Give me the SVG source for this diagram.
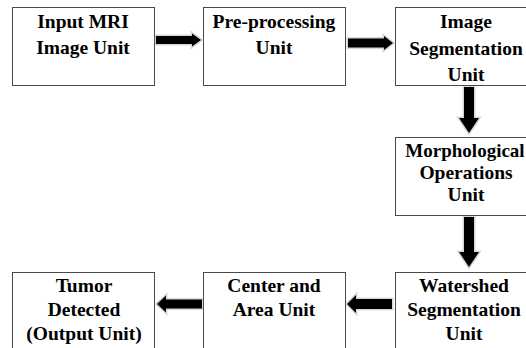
<svg xmlns="http://www.w3.org/2000/svg" width="526" height="348" viewBox="0 0 526 348">
<rect width="526" height="348" fill="#fff"/>
<g id="connectors" fill="#000" stroke-linejoin="miter">
<g id="a1"><polygon fill="none" stroke="#d8d8d8" stroke-width="3" points="156,36 192,36 192,33.5 201,40 192,46.5 192,44 156,44"/><polygon points="156,36 192,36 192,33.5 201,40 192,46.5 192,44 156,44"/></g>
<g id="a2"><polygon fill="none" stroke="#d8d8d8" stroke-width="3" points="348,38.5 384,38.5 384,36 393,43 384,50 384,47.5 348,47.5"/><polygon points="348,38.5 384,38.5 384,36 393,43 384,50 384,47.5 348,47.5"/></g>
<g id="a3"><polygon fill="none" stroke="#d8d8d8" stroke-width="3" points="464,87 474,87 474,118 479,118 469,133 459,118 464,118"/><polygon points="464,87 474,87 474,118 479,118 469,133 459,118 464,118"/></g>
<g id="a4"><polygon fill="none" stroke="#d8d8d8" stroke-width="3" points="464,217 474,217 474,252 479,252 469,267 459,252 464,252"/><polygon points="464,217 474,217 474,252 479,252 469,267 459,252 464,252"/></g>
<g id="a5"><polygon fill="none" stroke="#d8d8d8" stroke-width="3" points="392,299 356,299 356,295 347,304 356,313 356,309 392,309"/><polygon points="392,299 356,299 356,295 347,304 356,313 356,309 392,309"/></g>
<g id="a6"><polygon fill="none" stroke="#d8d8d8" stroke-width="3" points="202,299.5 166,299.5 166,295.5 157,304 166,312.5 166,308.5 202,308.5"/><polygon points="202,299.5 166,299.5 166,295.5 157,304 166,312.5 166,308.5 202,308.5"/></g>
</g>
<g id="n1"><rect fill="#fff" stroke="#4a4a4a" x="12.5" y="7.5" width="142" height="78"/><text font-family="Liberation Serif" font-size="19.5" font-weight="bold" text-anchor="middle" x="83" y="28">Input MRI</text><text font-family="Liberation Serif" font-size="19.5" font-weight="bold" text-anchor="middle" x="83" y="54">Image Unit</text></g>
<g id="n2"><rect fill="#fff" stroke="#4a4a4a" x="203.5" y="7.5" width="142" height="78"/><text font-family="Liberation Serif" font-size="19.5" font-weight="bold" text-anchor="middle" x="274" y="28">Pre-processing</text><text font-family="Liberation Serif" font-size="19.5" font-weight="bold" text-anchor="middle" x="274" y="54">Unit</text></g>
<g id="n3"><rect fill="#fff" stroke="#4a4a4a" x="395.5" y="7.5" width="142" height="78"/><text font-family="Liberation Serif" font-size="19.5" font-weight="bold" text-anchor="middle" x="466" y="28">Image</text><text font-family="Liberation Serif" font-size="19.5" font-weight="bold" text-anchor="middle" x="466" y="55">Segmentation</text><text font-family="Liberation Serif" font-size="19.5" font-weight="bold" text-anchor="middle" x="466" y="81">Unit</text></g>
<g id="n4"><rect fill="#fff" stroke="#4a4a4a" x="395.5" y="137.5" width="142" height="78"/><text font-family="Liberation Serif" font-size="19" font-weight="bold" text-anchor="middle" x="465" y="157">Morphological</text><text font-family="Liberation Serif" font-size="19.5" font-weight="bold" text-anchor="middle" x="466" y="179">Operations</text><text font-family="Liberation Serif" font-size="19.5" font-weight="bold" text-anchor="middle" x="466" y="201">Unit</text></g>
<g id="n5"><rect fill="#fff" stroke="#4a4a4a" x="395.5" y="272.5" width="142" height="90"/><text font-family="Liberation Serif" font-size="19.5" font-weight="bold" text-anchor="middle" x="464" y="292">Watershed</text><text font-family="Liberation Serif" font-size="19.5" font-weight="bold" text-anchor="middle" x="464" y="316">Segmentation</text><text font-family="Liberation Serif" font-size="19.5" font-weight="bold" text-anchor="middle" x="464" y="340">Unit</text></g>
<g id="n6"><rect fill="#fff" stroke="#4a4a4a" x="203.5" y="272.5" width="142" height="90"/><text font-family="Liberation Serif" font-size="19.5" font-weight="bold" text-anchor="middle" x="274" y="292">Center and</text><text font-family="Liberation Serif" font-size="19.5" font-weight="bold" text-anchor="middle" x="274" y="316">Area Unit</text></g>
<g id="n7"><rect fill="#fff" stroke="#4a4a4a" x="12.5" y="272.5" width="142" height="90"/><text font-family="Liberation Serif" font-size="19.5" font-weight="bold" text-anchor="middle" x="84" y="292">Tumor</text><text font-family="Liberation Serif" font-size="19.5" font-weight="bold" text-anchor="middle" x="84" y="316">Detected</text><text font-family="Liberation Serif" font-size="19.5" font-weight="bold" text-anchor="middle" x="84" y="340">(Output Unit)</text></g>
</svg>
